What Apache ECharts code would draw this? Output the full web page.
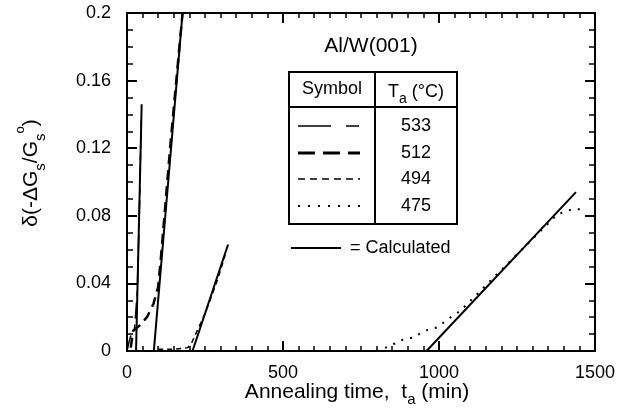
<!DOCTYPE html>
<html>
<head>
<meta charset="utf-8">
<script src="https://cdn.jsdelivr.net/npm/echarts@6/dist/echarts.min.js"></script>
<style>
html,body{margin:0;padding:0;background:#fff;}
#chart{width:639px;height:414px;}
</style>
</head>
<body>
<div id="chart"></div>
<script>
// ---- data (time in min, value δ(-ΔGs/Gs°)) ----
var exp533 = [[0,0],[6,0.005],[14,0.010],[24,0.013],[33,0.035],[40,0.085],[46,0.14]];
var exp512 = [[12,0.002],[20,0.012],[40,0.015],[64,0.020],[85,0.028],[100,0.038],[110,0.058],[140,0.124],[178,0.2]];
var exp494 = [[100,0.001],[150,0.001],[195,0.002],[205,0.004],[215,0.008],[250,0.022],[290,0.042],[315,0.057]];
var exp475 = [[800,0],[843,0.003],[880,0.0065],[917,0.008],[955,0.012],[994,0.014],[1035,0.0196],[1068,0.0237],[1200,0.048],[1380,0.081],[1425,0.0837],[1465,0.084]];
var calc533 = [[29,0],[47,0.146]];
var calc512 = [[86,0],[178,0.2]];
var calc494 = [[210,0],[324,0.063]];
var calc475 = [[960,0],[1439,0.094]];
var yTickLabels = {'0':'0','0.04':'0.04','0.08':'0.08','0.12':'0.12','0.16':'0.16','0.2':'0.2'};
var xTickLabels = {'0':'0','500':'500','1000':'1000','1500':'1500'};
var legendTemps = ['533','512','494','475'];

var FONT = 'Liberation Sans';
var chart = echarts.init(document.getElementById('chart'), null, {renderer:'canvas'});

function lineSeries(data, dash, width){
  return {type:'line', data:data, symbol:'none', xAxisIndex:0, yAxisIndex:0,
    lineStyle:{color:'#000', width:width, type:dash}, clip:true, silent:true, animation:false};
}

var axisCommon = {
  type:'value', splitLine:{show:false},
  axisLine:{show:true, onZero:false, lineStyle:{color:'#000', width:2}},
  axisTick:{show:true, inside:true, length:10, lineStyle:{color:'#000', width:2}},
  minorTick:{show:true, length:5, lineStyle:{color:'#000', width:1.5}},
  axisLabel:{color:'#000', fontFamily:FONT, fontSize:18}
};

var rowsY = [126, 153, 179, 206];
var dashes = [[33,15,13,100],[17,8],[7,5],[2,8]];
var widths = [1.5, 3, 1.5, 2];
var graphics = [
  {type:'text', x:371, y:46, style:{text:'Al/W(001)', fontFamily:FONT, fontSize:21, fill:'#000', align:'center', verticalAlign:'middle'}},
  {type:'rect', shape:{x:289, y:72, width:168, height:152}, style:{fill:'none', stroke:'#000', lineWidth:2}},
  {type:'line', shape:{x1:289, y1:107, x2:457, y2:107}, style:{stroke:'#000', lineWidth:2}},
  {type:'line', shape:{x1:375, y1:72, x2:375, y2:224}, style:{stroke:'#000', lineWidth:2}},
  {type:'text', x:332, y:89, style:{text:'Symbol', fontFamily:FONT, fontSize:18, fill:'#000', align:'center', verticalAlign:'middle'}},
  {type:'text', x:416, y:92, style:{text:'{n|T}{s|a}{n| (°C)}', fontFamily:FONT, fill:'#000', align:'center', verticalAlign:'middle',
    rich:{n:{fontFamily:FONT, fontSize:18, lineHeight:28, verticalAlign:'middle'}, s:{fontFamily:FONT, fontSize:14, lineHeight:28, verticalAlign:'bottom'}}}},
  {type:'line', shape:{x1:291, y1:248, x2:341, y2:248}, style:{stroke:'#000', lineWidth:2}},
  {type:'text', x:350, y:248, style:{text:'= Calculated', fontFamily:FONT, fontSize:18, fill:'#000', align:'left', verticalAlign:'middle'}},
  {type:'text', x:31, y:173, rotation:Math.PI/2, style:{text:'{n|δ(-ΔG}{s|s}{n|/G}{s|s}{p|o}{n|)}', fill:'#000', align:'center', verticalAlign:'middle',
    rich:{n:{fontFamily:FONT, fontSize:21, lineHeight:34, verticalAlign:'middle'}, s:{fontFamily:FONT, fontSize:15, lineHeight:34, verticalAlign:'bottom'}, p:{fontFamily:FONT, fontSize:13, lineHeight:34, verticalAlign:'top'}}}},
  {type:'text', x:357, y:392, style:{text:'{n|Annealing time,  t}{s|a}{n| (min)}', fill:'#000', align:'center', verticalAlign:'middle',
    rich:{n:{fontFamily:FONT, fontSize:21, lineHeight:30, verticalAlign:'middle'}, s:{fontFamily:FONT, fontSize:15, lineHeight:30, verticalAlign:'bottom'}}}}
];
for (var i=0;i<4;i++){
  graphics.push({type:'line', shape:{x1:298, y1:rowsY[i], x2:360, y2:rowsY[i]}, style:{stroke:'#000', lineWidth:widths[i], lineDash:dashes[i]}});
  graphics.push({type:'text', x:416, y:rowsY[i], style:{text:legendTemps[i], fontFamily:FONT, fontSize:18, fill:'#000', align:'center', verticalAlign:'middle'}});
}

var option = {
  animation:false,
  backgroundColor:'#fff',
  grid:{left:127, right:44, top:13, bottom:63, containLabel:false},
  xAxis:[
    Object.assign({}, axisCommon, {min:0, max:1500, interval:500, position:'bottom',
      minorTick:{show:true, splitNumber:10, length:5, lineStyle:{color:'#000', width:1.5}},
      axisLabel:{color:'#000', fontFamily:FONT, fontSize:18, margin:13, formatter:function(v){return xTickLabels[String(v)];}}}),
    Object.assign({}, axisCommon, {min:0, max:1500, interval:500, position:'top',
      minorTick:{show:true, splitNumber:10, length:5, lineStyle:{color:'#000', width:1.5}},
      axisLabel:{show:false}})
  ],
  yAxis:[
    Object.assign({}, axisCommon, {min:0, max:0.2, interval:0.04, position:'left',
      minorTick:{show:true, splitNumber:4, length:6, lineStyle:{color:'#000', width:1.5}},
      axisLabel:{color:'#000', fontFamily:FONT, fontSize:18, margin:16, formatter:function(v){return yTickLabels[String(+v.toFixed(2))];}}}),
    Object.assign({}, axisCommon, {min:0, max:0.2, interval:0.04, position:'right',
      minorTick:{show:true, splitNumber:4, length:6, lineStyle:{color:'#000', width:1.5}},
      axisLabel:{show:false}})
  ],
  series:[
    lineSeries(exp533, [16,6,6,6], 1.5),
    lineSeries(exp512, [10,6], 2.5),
    lineSeries(exp494, [5,4], 1.5),
    lineSeries(exp475, [2,7], 2),
    lineSeries(calc533, 'solid', 2),
    lineSeries(calc512, 'solid', 2),
    lineSeries(calc494, 'solid', 2),
    lineSeries(calc475, 'solid', 2)
  ],
  graphic:graphics
};
chart.setOption(option);
</script>
</body>
</html>
